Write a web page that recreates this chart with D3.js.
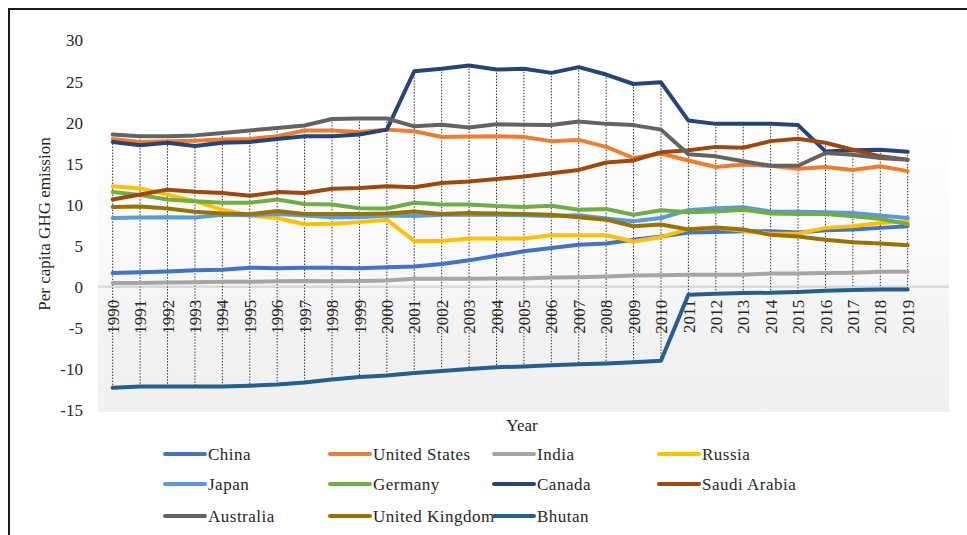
<!DOCTYPE html>
<html>
<head>
<meta charset="utf-8">
<script src="https://cdn.jsdelivr.net/npm/d3@7/dist/d3.min.js"></script>
<style>
  html, body { margin: 0; padding: 0; background: #fff; }
  svg { display: block; font-family: "Liberation Serif", "Times New Roman", serif; }
</style>
</head>
<body>
<svg id="chart" width="967" height="535"></svg>
<script>
// Per capita GHG emission by country, 1990-2019
const years = d3.range(1990, 2020);
const yTicks = [30, 25, 20, 15, 10, 5, 0, -5, -10, -15];

const china = [1.65,1.75,1.85,2.0,2.05,2.3,2.25,2.3,2.3,2.25,2.35,2.45,2.75,3.2,3.75,4.3,4.7,5.1,5.25,5.7,6.1,6.6,6.65,6.75,6.75,6.6,6.85,6.95,7.15,7.35];
const unitedStates = [17.95,17.6,17.7,17.75,17.9,17.95,18.3,19.0,19.0,18.8,19.1,18.9,18.2,18.25,18.3,18.2,17.7,17.85,17.0,15.65,16.2,15.35,14.55,14.85,14.7,14.35,14.55,14.2,14.65,14.05];
const india = [0.45,0.45,0.5,0.55,0.6,0.6,0.65,0.7,0.65,0.7,0.75,0.95,0.95,0.95,1.0,1.0,1.1,1.15,1.25,1.35,1.4,1.45,1.45,1.45,1.6,1.6,1.65,1.7,1.8,1.8];
const russia = [12.2,11.95,11.2,10.4,9.35,8.65,8.35,7.6,7.65,7.85,8.15,5.55,5.55,5.85,5.85,5.85,6.25,6.25,6.25,5.5,6.05,7.0,7.15,6.8,6.45,6.45,7.15,7.35,7.75,7.95];
const japan = [8.35,8.4,8.45,8.4,8.75,8.7,8.85,8.65,8.45,8.45,8.65,8.6,8.75,8.75,8.75,8.7,8.6,8.7,8.3,7.95,8.35,9.3,9.55,9.65,9.15,9.1,9.05,8.95,8.65,8.35];
const germany = [11.5,11.15,10.6,10.4,10.2,10.2,10.6,10.05,10.0,9.55,9.5,10.2,10.0,10.0,9.8,9.7,9.85,9.35,9.45,8.75,9.3,9.05,9.15,9.35,8.9,8.85,8.85,8.55,8.25,7.6];
const canada = [17.6,17.2,17.5,17.1,17.5,17.6,17.95,18.3,18.3,18.5,19.1,26.2,26.5,26.9,26.4,26.5,26.0,26.7,25.8,24.65,24.85,20.2,19.8,19.8,19.8,19.65,16.45,16.6,16.65,16.4];
const saudiArabia = [10.6,11.2,11.8,11.55,11.4,11.05,11.5,11.4,11.9,12.0,12.2,12.1,12.6,12.8,13.1,13.4,13.8,14.2,15.1,15.35,16.35,16.6,17.0,16.9,17.7,18.0,17.5,16.65,15.85,15.45];
const australia = [18.5,18.3,18.3,18.4,18.7,19.0,19.3,19.6,20.4,20.45,20.45,19.5,19.7,19.35,19.75,19.7,19.65,20.1,19.8,19.65,19.1,16.1,15.85,15.25,14.7,14.7,16.25,16.05,15.65,15.45];
const unitedKingdom = [9.7,9.75,9.5,9.1,8.9,8.8,9.2,8.85,8.85,8.85,8.9,9.15,8.85,8.95,8.9,8.85,8.75,8.45,8.15,7.35,7.55,6.95,7.2,6.95,6.3,6.1,5.7,5.4,5.25,5.05];
const bhutan = [-12.3,-12.15,-12.15,-12.15,-12.15,-12.05,-11.9,-11.65,-11.3,-11.0,-10.8,-10.5,-10.25,-10.0,-9.8,-9.7,-9.55,-9.45,-9.35,-9.2,-9.0,-0.97,-0.85,-0.77,-0.75,-0.65,-0.5,-0.4,-0.33,-0.33];

const seriesNames = ["China","United States","India","Russia","Japan","Germany","Canada","Saudi Arabia","Australia","United Kingdom","Bhutan"];
const seriesValues = [china, unitedStates, india, russia, japan, germany, canada, saudiArabia, australia, unitedKingdom, bhutan];
const seriesColors = ["#4472C4","#ED7D31","#A5A5A5","#FFC000","#5B9BD5","#70AD47","#264478","#9E480E","#636363","#997300","#255E91"];

const series = seriesNames.map((name, i) => ({
  name, color: seriesColors[i],
  values: years.map((yr, j) => ({ year: yr, value: seriesValues[i][j] }))
}));

const svg = d3.select("#chart");

// Outer chart frame
svg.append("rect")
  .attr("x", 9).attr("y", 9).attr("width", 980).attr("height", 560)
  .attr("fill", "none").attr("stroke", "#1a1a1a").attr("stroke-width", 2);

const x = d3.scaleLinear().domain([1990, 2019]).range([112.7, 907.7]);
const y = d3.scaleLinear().domain([-15, 30]).range([410, 40]);

// Plot area fill: fades from white to light grey
const defs = svg.append("defs");
const grad = defs.append("linearGradient").attr("id", "plotFill")
  .attr("x1", 0).attr("y1", 0).attr("x2", 0).attr("y2", 1);
grad.append("stop").attr("offset", "0%").attr("stop-color", "#ffffff");
grad.append("stop").attr("offset", "45%").attr("stop-color", "#f9f9f9");
grad.append("stop").attr("offset", "72%").attr("stop-color", "#f2f2f2");
grad.append("stop").attr("offset", "100%").attr("stop-color", "#f0f0f0");

svg.append("rect")
  .attr("x", 98).attr("y", 127).attr("width", 851).attr("height", 285)
  .attr("fill", "url(#plotFill)");

// Zero line
svg.append("line")
  .attr("x1", 98).attr("x2", 949)
  .attr("y1", y(0)).attr("y2", y(0))
  .attr("stroke", "#d9d9d9").attr("stroke-width", 2.5);

// High-low lines at each year
const hiLo = years.map((yr, j) => {
  const vals = seriesValues.map(s => s[j]);
  return { year: yr, hi: d3.max(vals), lo: d3.min(vals) };
});
const hl = svg.append("g");
hl.selectAll("line.hw").data(hiLo).join("line")
  .attr("x1", d => x(d.year)).attr("x2", d => x(d.year))
  .attr("y1", d => y(d.hi)).attr("y2", d => y(d.lo))
  .attr("stroke", "#ffffff").attr("stroke-width", 1.2);
hl.selectAll("line.hd").data(hiLo).join("line")
  .attr("x1", d => x(d.year)).attr("x2", d => x(d.year))
  .attr("y1", d => y(d.hi)).attr("y2", d => y(d.lo))
  .attr("stroke", "#2b2b2b").attr("stroke-width", 1)
  .attr("stroke-dasharray", "1.5,1.5");

// Y axis labels
const yAxis = d3.axisLeft(y).tickValues(yTicks).tickSize(0).tickPadding(0)
  .tickFormat(d => d < 0 ? "-" + Math.abs(d) : String(d));
const gy = svg.append("g").attr("transform", "translate(83,0)").call(yAxis);
gy.select(".domain").remove();
gy.selectAll("text").attr("font-family", "Liberation Serif, serif")
  .attr("font-size", 17).attr("fill", "#262626").attr("dy", "0.35em");

// X axis year labels, rotated
const xAxis = d3.axisBottom(x).tickValues(years).tickSize(0).tickFormat(d3.format("d"));
const gx = svg.append("g").attr("transform", `translate(0,${y(0)})`).call(xAxis);
gx.select(".domain").remove();
gx.selectAll("text")
  .attr("font-family", "Liberation Serif, serif").attr("font-size", 17).attr("fill", "#262626")
  .attr("text-anchor", "end")
  .attr("transform", "translate(0,13) rotate(-90)")
  .attr("x", 0).attr("y", 0).attr("dy", "0.33em");

// Series lines
const line = d3.line().x(d => x(d.year)).y(d => y(d.value));
svg.append("g").selectAll("path").data(series).join("path")
  .attr("d", d => line(d.values))
  .attr("fill", "none")
  .attr("stroke", d => d.color)
  .attr("stroke-width", 4)
  .attr("stroke-linejoin", "round")
  .attr("stroke-linecap", "round");

// Axis titles
svg.append("text")
  .attr("transform", "translate(50,224) rotate(-90)")
  .attr("text-anchor", "middle")
  .attr("font-size", 17).attr("fill", "#262626")
  .text("Per capita GHG emission");
svg.append("text")
  .attr("x", 522).attr("y", 431)
  .attr("text-anchor", "middle")
  .attr("font-size", 17).attr("fill", "#262626")
  .text("Year");

// Legend
const colX = [165, 330, 494, 659];
const rowY = [454, 484, 516];
const legend = svg.append("g").selectAll("g").data(series).join("g")
  .attr("transform", (d, i) => `translate(${colX[i % 4]},${rowY[Math.floor(i / 4)]})`);
legend.append("line")
  .attr("x1", 0).attr("x2", 40).attr("y1", 0).attr("y2", 0)
  .attr("stroke", d => d.color).attr("stroke-width", 4).attr("stroke-linecap", "round");
legend.append("text")
  .attr("x", 43).attr("y", 0).attr("dy", "0.33em")
  .attr("font-size", 17).attr("letter-spacing", "0.5px").attr("fill", "#262626")
  .text(d => d.name);
</script>
</body>
</html>
